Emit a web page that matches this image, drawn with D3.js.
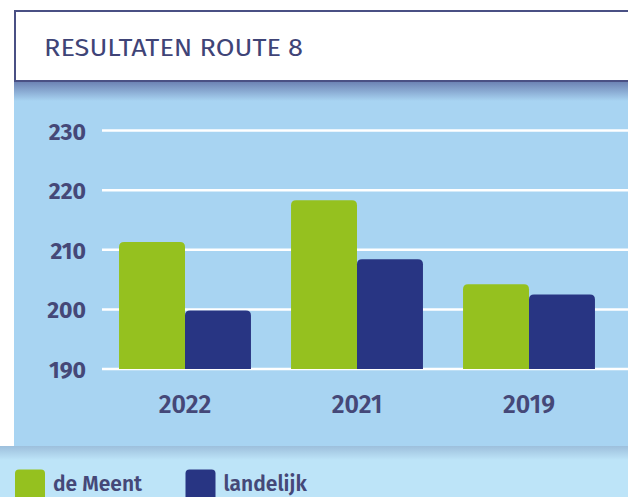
<!DOCTYPE html>
<html>
<head>
<meta charset="utf-8">
<script src="https://cdn.jsdelivr.net/npm/d3@7"></script>
<style>
  body { margin: 0; background: #fff; }
  svg { display: block; font-family: "Fira Sans", "Noto Sans", sans-serif; }
</style>
</head>
<body>
<div id="chart"></div>
<script>
const years = ["2022", "2021", "2019"];
const series = ["de Meent", "landelijk"];
const deMeent = [211.3, 218.3, 204.2];
const landelijk = [199.8, 208.4, 202.5];
const yTicks = [190, 200, 210, 220, 230];
const colors = ["#95c11f", "#283583"];

const width = 628, height = 497;
const textColor = "#454878";

const svg = d3.select("#chart")
  .append("svg")
  .attr("width", width)
  .attr("height", height);

const defs = svg.append("defs");
const g1 = defs.append("linearGradient").attr("id", "topShade").attr("x1", 0).attr("x2", 0).attr("y1", 0).attr("y2", 1);
g1.append("stop").attr("offset", 0).attr("stop-color", "#6a7fb1");
g1.append("stop").attr("offset", 1).attr("stop-color", "#a8d4f2");
const g2 = defs.append("linearGradient").attr("id", "legShade").attr("x1", 0).attr("x2", 0).attr("y1", 0).attr("y2", 1);
g2.append("stop").attr("offset", 0).attr("stop-color", "#9dbfdc");
g2.append("stop").attr("offset", 1).attr("stop-color", "#bde4f8");

// backgrounds
svg.append("rect").attr("x", 14).attr("y", 81).attr("width", width - 14).attr("height", 366).attr("fill", "#a8d4f2");
svg.append("rect").attr("x", 14).attr("y", 81).attr("width", width - 14).attr("height", 20).attr("fill", "url(#topShade)");
svg.append("rect").attr("x", 0).attr("y", 446).attr("width", width).attr("height", 51).attr("fill", "#bde4f8");
svg.append("rect").attr("x", 0).attr("y", 446).attr("width", width).attr("height", 14).attr("fill", "url(#legShade)");

// header box
svg.append("rect")
  .attr("x", 15).attr("y", 11).attr("width", width).attr("height", 70)
  .attr("fill", "#fff").attr("stroke", "#4a5084").attr("stroke-width", 2);
svg.append("text")
  .attr("x", 44).attr("y", 56)
  .attr("fill", "#3f4477")
  .attr("font-size", 24)
  .attr("textLength", 259)
  .attr("lengthAdjust", "spacingAndGlyphs")
  .text("RESULTATEN ROUTE 8");

// scales
const y = d3.scaleLinear().domain([190, 230]).range([369, 130.6]);
const x0 = d3.scaleBand().domain(years).range([99, 615]).paddingInner(0.233).paddingOuter(0.1165);
const x1 = d3.scaleBand().domain(series).range([0, x0.bandwidth()]);

// grid
svg.append("g")
  .selectAll("line")
  .data(yTicks)
  .join("line")
  .attr("x1", 102).attr("x2", width)
  .attr("y1", d => y(d)).attr("y2", d => y(d))
  .attr("stroke", "#fff").attr("stroke-width", 2.5);

svg.append("g")
  .selectAll("text")
  .data(yTicks)
  .join("text")
  .attr("x", 86)
  .attr("y", d => y(d) + 9)
  .attr("text-anchor", "end")
  .attr("fill", textColor)
  .attr("font-size", 23)
  .attr("font-weight", 700)
  .text(d => d);

// bars with rounded tops
function topRounded(x, yTop, w, yBot, r) {
  return `M${x},${yBot}V${yTop + r}Q${x},${yTop} ${x + r},${yTop}H${x + w - r}Q${x + w},${yTop} ${x + w},${yTop + r}V${yBot}Z`;
}

const rows = years.map((yr, i) => ({ year: yr, values: [deMeent[i], landelijk[i]] }));

svg.append("g")
  .selectAll("g")
  .data(rows)
  .join("g")
  .attr("transform", d => `translate(${x0(d.year)},0)`)
  .selectAll("path")
  .data(d => d.values.map((v, j) => ({ key: series[j], v, j })))
  .join("path")
  .attr("fill", d => colors[d.j])
  .attr("d", d => topRounded(x1(d.key), y(d.v), x1.bandwidth(), y(190), 5));

// x labels
svg.append("g")
  .selectAll("text")
  .data(years)
  .join("text")
  .attr("x", d => x0(d) + x0.bandwidth() / 2)
  .attr("y", 413)
  .attr("text-anchor", "middle")
  .attr("fill", textColor)
  .attr("font-size", 25)
  .attr("font-weight", 600)
  .text(d => d);

// legend
const legX = [15, 185.5];
const leg = svg.append("g")
  .selectAll("g")
  .data(series)
  .join("g")
  .attr("transform", (d, i) => `translate(${legX[i]},469.5)`);
leg.append("path")
  .attr("fill", (d, i) => colors[i])
  .attr("d", topRounded(0, 0, 30, 30, 4));
leg.append("text")
  .attr("x", 38)
  .attr("y", 21.5)
  .attr("fill", textColor)
  .attr("font-size", 21)
  .attr("font-weight", 600)
  .text(d => d);
</script>
</body>
</html>
